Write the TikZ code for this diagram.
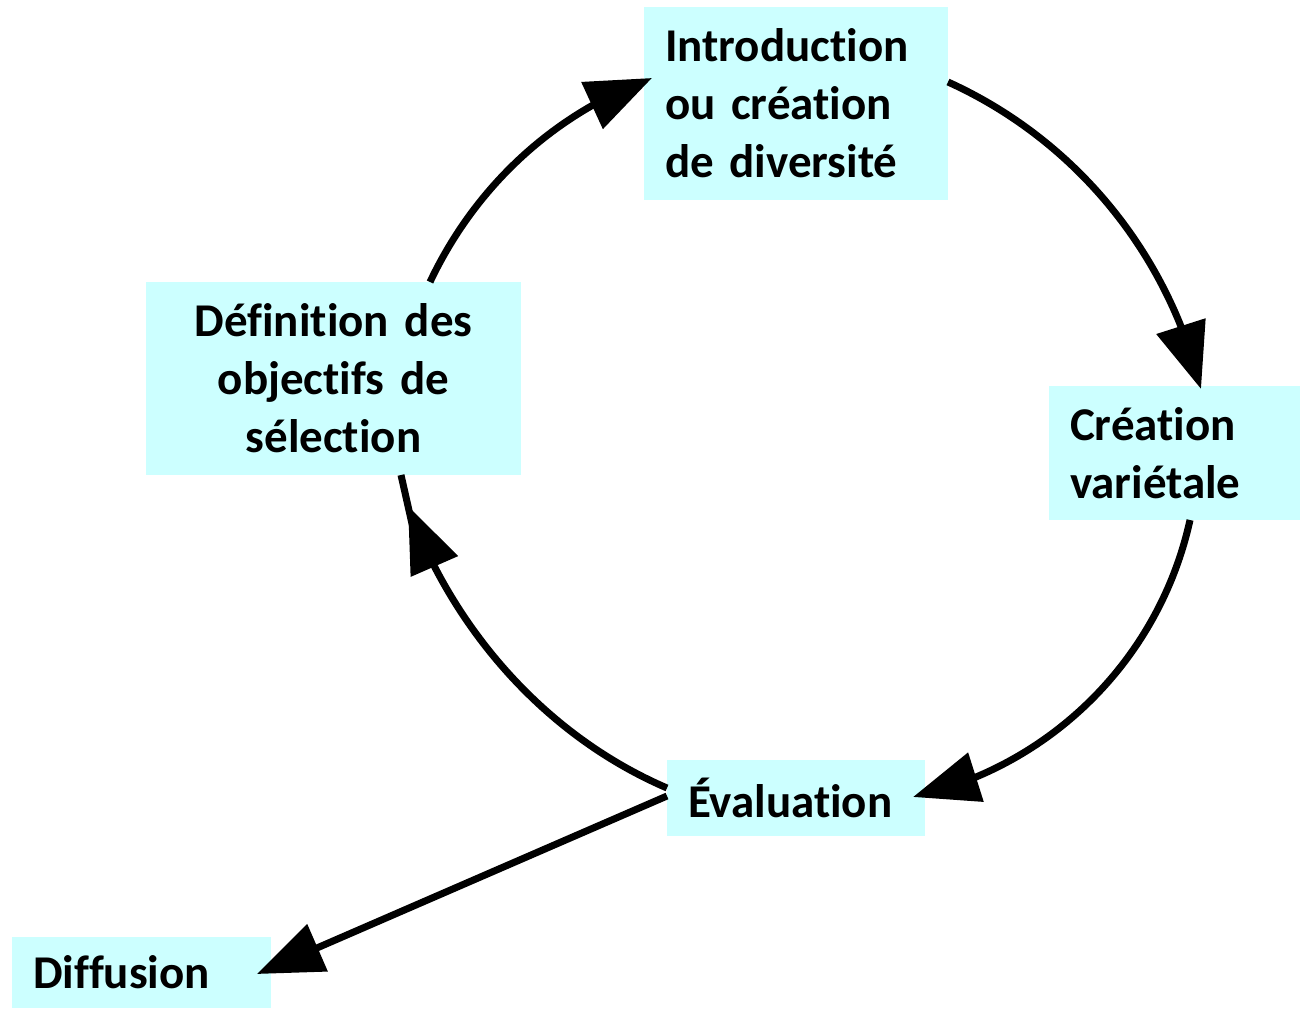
\documentclass[tikz,border=0pt]{standalone}
\usepackage{fontspec}
\setmainfont{Carlito}[Ligatures={NoCommon,NoRare,NoContextual}]
\usetikzlibrary{arrows.meta,bending,calc}
\definecolor{boxcyan}{RGB}{204,255,255}
\begin{document}
\begin{tikzpicture}[x=1pt,y=-1pt,
  box/.style={fill=boxcyan, draw=none, inner xsep=21pt, inner ysep=0pt,
    font=\fontsize{47}{58}\selectfont\bfseries, anchor=center},
  flow/.style={line width=7pt, -{Triangle[length=66pt,width=50pt,flex]}},
  plainline/.style={line width=7pt}]
\useasboundingbox (0,0) rectangle (1301,1009);
\node[box, minimum height=193pt, text width=262pt, align=left] (intro) at (796,103.5) {Introduction\\ou création\\de diversité};
\node[box, minimum height=193pt, text width=333pt, align=center] (def) at (333.5,378.5) {Définition des\\objectifs de\\sélection};
\node[box, minimum height=134pt, text width=209pt, align=left] (crea) at (1174.5,453) {Création\\variétale};
\node[box, minimum height=76pt, text width=216pt, align=left] (eval) at (796,798) {Évaluation};
\node[box, minimum height=71pt, text width=217pt, align=left] (diff) at (141.5,972.5) {Diffusion};
\coordinate (s1) at (430,282);
\coordinate (t1) at (652,78);
\coordinate (s2) at (948,82);
\coordinate (t2) at (1201,389);
\coordinate (s3) at (1190,520);
\coordinate (t3) at (913,797);
\coordinate (s4) at (667,788);
\coordinate (t4) at (408,506);
\coordinate (e4) at (401,475);
\coordinate (s5) at (667,796);
\coordinate (t5) at (257,974);
\draw[flow] (s1) .. controls (475.5,185.8) and (554.8,112.9) .. (t1);
\draw[flow] (s2) .. controls (1074.7,139.4) and (1167.9,252.7) .. (t2);
\draw[flow] (s3) .. controls (1159.5,658.6) and (1051.6,766.5) .. (t3);
\draw[flow] (s4) .. controls (545.7,735.8) and (452.8,629.8) .. (t4);
\draw[plainline] ($(t4)!-22pt!(e4)$) -- (e4);
\draw[flow] (s5) -- (t5);
\end{tikzpicture}
\end{document}
